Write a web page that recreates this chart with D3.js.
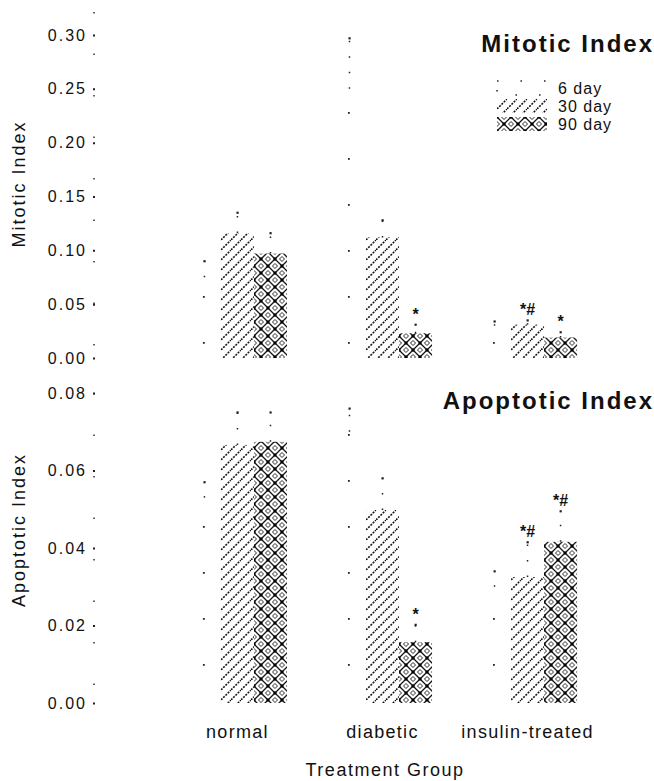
<!DOCTYPE html>
<html>
<head>
<meta charset="utf-8">
<script src="https://cdn.jsdelivr.net/npm/d3@7"></script>
<style>
  body { margin: 0; background: #fff; }
  text { font-family: "Liberation Sans", Arial, sans-serif; fill: #111; }
</style>
</head>
<body>
<div id="chart"></div>
<script>
const groups = ["normal", "diabetic", "insulin-treated"];
const series = ["6 day", "30 day", "90 day"];

// mitotic index, per group, per series
const mitotic6 = [0.075, 0.250, 0.030];
const mitotic6Err = [0.015, 0.047, 0.004];
const mitotic30 = [0.116, 0.112, 0.031];
const mitotic30Err = [0.019, 0.016, 0.004];
const mitotic90 = [0.097, 0.023, 0.019];
const mitotic90Err = [0.019, 0.008, 0.005];
const mitoticMarks = [["", "", ""], ["", "", "*"], ["", "*#", "*"]];
const mitoticTicks = [0.00, 0.05, 0.10, 0.15, 0.20, 0.25, 0.30];

// apoptotic index
const apoptotic6 = [0.053, 0.070, 0.030];
const apoptotic6Err = [0.004, 0.006, 0.004];
const apoptotic30 = [0.0666, 0.0498, 0.0325];
const apoptotic30Err = [0.0084, 0.0082, 0.009];
const apoptotic90 = [0.0674, 0.0157, 0.0416];
const apoptotic90Err = [0.0076, 0.0045, 0.0079];
const apoptoticMarks = [["", "", ""], ["", "", "*"], ["", "*#", "*#"]];
const apoptoticTicks = [0.00, 0.02, 0.04, 0.06, 0.08];

const W = 654, H = 781;
const svg = d3.select("#chart").append("svg")
    .attr("width", W)
    .attr("height", H);

// fill patterns
const defs = svg.append("defs");
const p6 = defs.append("pattern").attr("id", "p6")
    .attr("patternUnits", "userSpaceOnUse").attr("width", 33).attr("height", 46);
p6.append("rect").attr("x", 15).attr("y", 20).attr("width", 1.8).attr("height", 1.8).attr("fill", "#222");

const p30 = defs.append("pattern").attr("id", "p30")
    .attr("patternUnits", "userSpaceOnUse").attr("width", 10).attr("height", 10);
p30.append("path")
    .attr("d", "M-2,2 L2,-2 M0,10 L10,0 M8,12 L12,8")
    .attr("stroke", "#111").attr("stroke-width", 1.6)
    .attr("stroke-dasharray", "2,1.2");

const p90 = defs.append("pattern").attr("id", "p90")
    .attr("patternUnits", "userSpaceOnUse").attr("width", 14).attr("height", 14);
p90.append("path")
    .attr("d", "M0,0 L14,14 M14,0 L0,14 M7,-7 L21,7 M-7,7 L7,21 M7,-7 L-7,7 M21,7 L7,21")
    .attr("stroke", "#111").attr("stroke-width", 1.3);
[[0, 7], [14, 7], [7, 0], [7, 14]].forEach(([cx, cy]) => {
    p90.append("path")
        .attr("d", `M${cx},${cy - 2.5} L${cx + 2.5},${cy} L${cx},${cy + 2.5} L${cx - 2.5},${cy} Z`)
        .attr("fill", "none").attr("stroke", "#111").attr("stroke-width", 0.9);
});
[[7, 7], [0, 0], [14, 14], [14, 0], [0, 14]].forEach(([cx, cy]) => {
    p90.append("rect").attr("x", cx - 1.5).attr("y", cy - 1.5)
        .attr("width", 3).attr("height", 3).attr("fill", "#000");
});

const fills = {"6 day": "url(#p6)", "30 day": "url(#p30)", "90 day": "url(#p90)"};

const x0 = d3.scaleBand().domain(groups).range([165, 600]).paddingInner(0.317).paddingOuter(0.158);
const x1 = d3.scaleBand().domain(series).range([0, x0.bandwidth()]);

function build(vals, errs, marks) {
    const rows = [];
    groups.forEach((g, gi) => {
        series.forEach((s, si) => {
            rows.push({group: g, series: s, value: vals[si][gi], err: errs[si][gi], mark: marks[gi][si]});
        });
    });
    return rows;
}

function panel(rows, y, ticks, yTitle, yTitleMid, titleText, titleY, axisTop) {
    const g = svg.append("g");

    // axis: only faint dots and tick marks survive in the scan
    const axis = d3.axisLeft(y).tickValues(ticks).tickFormat(d3.format(".2f")).tickSize(2).tickPadding(6);
    const ax = g.append("g").attr("transform", "translate(95,0)").call(axis);
    ax.select(".domain").remove();
    ax.selectAll(".tick line").attr("stroke", "#222").attr("stroke-width", 2);
    ax.selectAll(".tick text").attr("font-size", 16).attr("letter-spacing", 2).attr("fill", "#222");
    g.append("line")
        .attr("x1", 94).attr("x2", 94)
        .attr("y1", axisTop).attr("y2", y.range()[0])
        .attr("stroke", "#222").attr("stroke-width", 1.4)
        .attr("stroke-dasharray", "1.5,40");

    const bars = g.append("g").selectAll("g").data(rows).join("g")
        .attr("transform", d => `translate(${x0(d.group) + x1(d.series)},0)`);

    bars.append("rect")
        .attr("x", 0)
        .attr("y", d => y(d.value))
        .attr("width", x1.bandwidth())
        .attr("height", d => y(0) - y(d.value))
        .attr("fill", d => fills[d.series]);

    // error bars, drawn very faint like the scan
    bars.append("line")
        .attr("x1", x1.bandwidth() / 2).attr("x2", x1.bandwidth() / 2)
        .attr("y1", d => y(d.value))
        .attr("y2", d => y(d.value + d.err))
        .attr("stroke", "#222").attr("stroke-width", 1.5)
        .attr("stroke-dasharray", "1.5,14");
    bars.append("rect")
        .attr("x", x1.bandwidth() / 2 - 1)
        .attr("y", d => y(d.value + d.err) - 1)
        .attr("width", 2.2).attr("height", 2.2)
        .attr("fill", "#222");

    bars.filter(d => d.mark).append("text")
        .attr("x", x1.bandwidth() / 2)
        .attr("y", d => y(d.value + d.err) - 5)
        .attr("text-anchor", "middle")
        .attr("font-size", 16).attr("font-weight", "bold")
        .text(d => d.mark);

    g.append("text")
        .attr("transform", `translate(25,${yTitleMid}) rotate(-90)`)
        .attr("text-anchor", "middle")
        .attr("font-size", 18).attr("letter-spacing", 2)
        .text(yTitle);

    g.append("text")
        .attr("x", 654).attr("y", titleY)
        .attr("text-anchor", "end")
        .attr("font-size", 24).attr("font-weight", "bold").attr("letter-spacing", 2)
        .text(titleText);
}

const yM = d3.scaleLinear().domain([0, 0.30]).range([358, 35]);
const yA = d3.scaleLinear().domain([0, 0.08]).range([703, 393]);

panel(build([mitotic6, mitotic30, mitotic90], [mitotic6Err, mitotic30Err, mitotic90Err], mitoticMarks),
      yM, mitoticTicks, "Mitotic Index", 184, "Mitotic Index", 52, 12);
panel(build([apoptotic6, apoptotic30, apoptotic90], [apoptotic6Err, apoptotic30Err, apoptotic90Err], apoptoticMarks),
      yA, apoptoticTicks, "Apoptotic Index", 530, "Apoptotic Index", 409, 393);

// legend
const legend = svg.append("g").selectAll("g").data(series).join("g")
    .attr("transform", (d, i) => `translate(497,${81 + i * 18})`);
legend.append("rect")
    .attr("width", 50).attr("height", 14)
    .attr("fill", d => fills[d])
    .attr("stroke", d => d === "6 day" ? "#222" : "none")
    .attr("stroke-width", 1.5)
    .attr("stroke-dasharray", "1.5,22");
legend.append("text")
    .attr("x", 61).attr("y", 13)
    .attr("font-size", 16).attr("letter-spacing", 1)
    .text(d => d);

// x axis labels
svg.append("g").selectAll("text").data(groups).join("text")
    .attr("x", d => x0(d) + x0.bandwidth() / 2)
    .attr("y", 738)
    .attr("text-anchor", "middle")
    .attr("font-size", 18).attr("letter-spacing", 1.3)
    .text(d => d);

svg.append("text")
    .attr("x", 385).attr("y", 776)
    .attr("text-anchor", "middle")
    .attr("font-size", 18).attr("letter-spacing", 1.5)
    .text("Treatment Group");
</script>
</body>
</html>
